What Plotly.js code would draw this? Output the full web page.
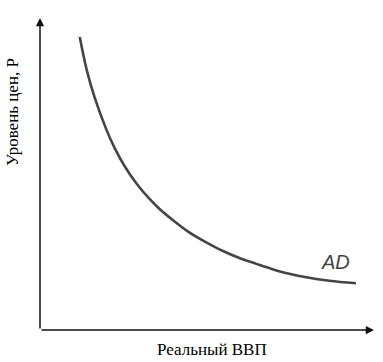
<!DOCTYPE html>
<html><head><meta charset="utf-8">
<script src="https://cdn.plot.ly/plotly-3.0.1.min.js"></script>
<style>body{margin:0;background:#fff}#c{width:383px;height:362px}</style>
</head><body><div id="c"></div>
<script>
// Aggregate demand curve (arbitrary units)
const realGDP    = [1.19, 1.40, 1.64, 2.00, 2.24, 2.54, 2.90, 3.28, 3.58, 3.97, 4.48, 4.99, 5.46, 5.97, 6.48, 6.96, 7.46, 7.97, 8.66, 9.46];
const priceLevel = [9.39, 8.33, 7.44, 6.39, 5.82, 5.24, 4.68, 4.20, 3.88, 3.53, 3.12, 2.80, 2.54, 2.31, 2.12, 1.95, 1.80, 1.69, 1.58, 1.50];
const curveName = 'AD';
const xTitle = 'Реальный ВВП';
const yTitle = 'Уровень цен, P';

const trace = {
  x: realGDP, y: priceLevel, mode: 'lines', type: 'scatter',
  line: {color: '#454545', width: 2.6, shape: 'spline', smoothing: 1.0},
  hoverinfo: 'skip'
};
const ax = {range: [0, 10], showgrid: false, zeroline: false, showline: false,
            showticklabels: false, ticks: '', fixedrange: true};
const layout = {
  width: 383, height: 362,
  margin: {l: 40, r: 9, t: 18, b: 32},
  paper_bgcolor: '#fff', plot_bgcolor: '#fff',
  showlegend: false,
  xaxis: Object.assign({}, ax),
  yaxis: Object.assign({}, ax),
  annotations: [
    {xref: 'paper', yref: 'paper', x: 0, y: 1, ax: 0, ay: 312, axref: 'pixel', ayref: 'pixel',
     text: '', showarrow: true, arrowhead: 2, arrowsize: 1.1, arrowwidth: 1.5, arrowcolor: '#111'},
    {xref: 'paper', yref: 'paper', x: 1, y: 0, ax: -334, ay: 0,
     text: '', showarrow: true, arrowhead: 2, arrowsize: 1.1, arrowwidth: 1.5, arrowcolor: '#111'},
    {xref: 'x', yref: 'y', x: 8.86, y: 2.18, text: curveName, showarrow: false,
     font: {family: 'Liberation Sans, Arial, sans-serif', size: 20, color: '#444', style: 'italic'}},
    {xref: 'paper', yref: 'paper', x: 0.516, y: -0.064, text: xTitle, showarrow: false,
     yanchor: 'middle', font: {family: 'Liberation Serif, Times New Roman, serif', size: 17, color: '#000'}},
    {xref: 'paper', yref: 'paper', x: -0.083, y: 0.70, text: yTitle, showarrow: false, textangle: -90,
     xanchor: 'center', yanchor: 'middle',
     font: {family: 'Liberation Serif, Times New Roman, serif', size: 17, color: '#000'}}
  ]
};
Plotly.newPlot('c', [trace], layout, {staticPlot: true, displayModeBar: false});
</script></body></html>
